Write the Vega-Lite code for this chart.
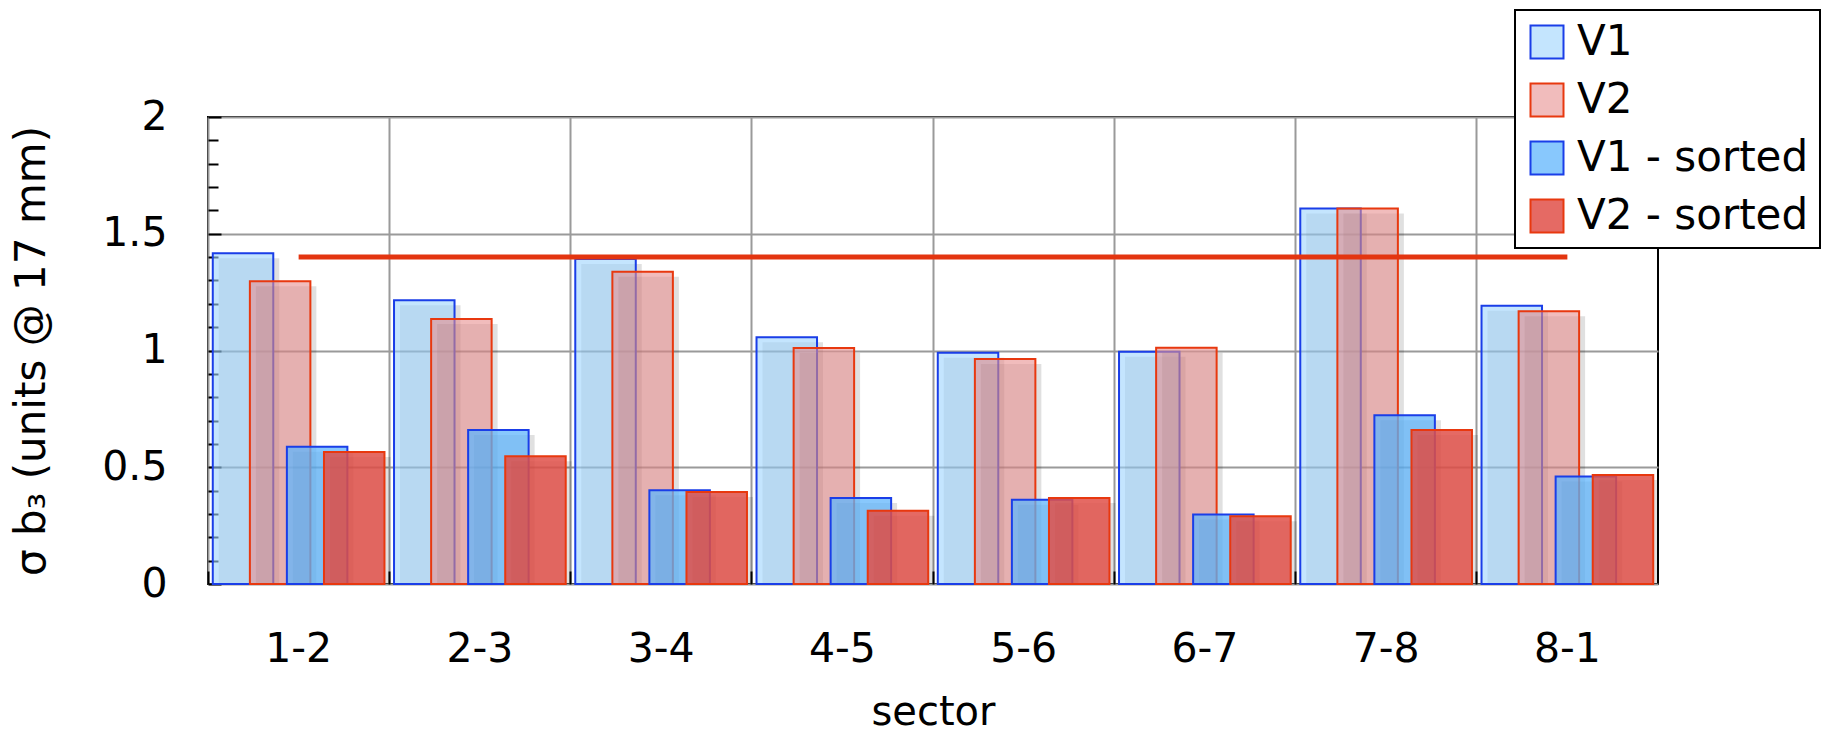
{
  "$schema": "https://vega.github.io/schema/vega-lite/v6.json",
  "autosize": "none",
  "width": 1450,
  "height": 467,
  "padding": {"left": 208, "top": 117, "right": 164, "bottom": 151},
  "background": "white",
  "config": {
    "view": {"stroke": "black", "strokeWidth": 2},
    "font": "DejaVu Sans"
  },
  "datasets": {
    "bars": [
      {"sector": "1-2", "series": "V1", "value": 1.416},
      {"sector": "1-2", "series": "V2", "value": 1.297},
      {"sector": "1-2", "series": "V1 - sorted", "value": 0.588},
      {"sector": "1-2", "series": "V2 - sorted", "value": 0.565},
      {"sector": "2-3", "series": "V1", "value": 1.215},
      {"sector": "2-3", "series": "V2", "value": 1.135},
      {"sector": "2-3", "series": "V1 - sorted", "value": 0.66},
      {"sector": "2-3", "series": "V2 - sorted", "value": 0.547},
      {"sector": "3-4", "series": "V1", "value": 1.392},
      {"sector": "3-4", "series": "V2", "value": 1.337},
      {"sector": "3-4", "series": "V1 - sorted", "value": 0.401},
      {"sector": "3-4", "series": "V2 - sorted", "value": 0.394},
      {"sector": "4-5", "series": "V1", "value": 1.057},
      {"sector": "4-5", "series": "V2", "value": 1.011},
      {"sector": "4-5", "series": "V1 - sorted", "value": 0.368},
      {"sector": "4-5", "series": "V2 - sorted", "value": 0.314},
      {"sector": "5-6", "series": "V1", "value": 0.99},
      {"sector": "5-6", "series": "V2", "value": 0.964},
      {"sector": "5-6", "series": "V1 - sorted", "value": 0.361},
      {"sector": "5-6", "series": "V2 - sorted", "value": 0.368},
      {"sector": "6-7", "series": "V1", "value": 0.995},
      {"sector": "6-7", "series": "V2", "value": 1.012},
      {"sector": "6-7", "series": "V1 - sorted", "value": 0.298},
      {"sector": "6-7", "series": "V2 - sorted", "value": 0.29},
      {"sector": "7-8", "series": "V1", "value": 1.608},
      {"sector": "7-8", "series": "V2", "value": 1.608},
      {"sector": "7-8", "series": "V1 - sorted", "value": 0.723},
      {"sector": "7-8", "series": "V2 - sorted", "value": 0.66},
      {"sector": "8-1", "series": "V1", "value": 1.192},
      {"sector": "8-1", "series": "V2", "value": 1.168},
      {"sector": "8-1", "series": "V1 - sorted", "value": 0.46},
      {"sector": "8-1", "series": "V2 - sorted", "value": 0.467}
    ],
    "thr": [
      {"sector": "1-2", "value": 1.4},
      {"sector": "2-3", "value": 1.4},
      {"sector": "3-4", "value": 1.4},
      {"sector": "4-5", "value": 1.4},
      {"sector": "5-6", "value": 1.4},
      {"sector": "6-7", "value": 1.4},
      {"sector": "7-8", "value": 1.4},
      {"sector": "8-1", "value": 1.4}
    ]
  },
  "encoding": {
    "x": {
      "field": "sector", "type": "nominal",
      "scale": {"type": "band", "domain": ["1-2","2-3","3-4","4-5","5-6","6-7","7-8","8-1"], "paddingInner": 0, "paddingOuter": 0},
      "axis": {
        "title": "sector", "bandPosition": 0, "labelOffset": 0, "labelAngle": 0,
        "grid": true, "gridColor": "#9a9a9a", "gridWidth": 2,
        "ticks": true, "tickSize": -13, "tickColor": "black", "tickWidth": 2,
        "domain": false,
        "labelFont": "DejaVu Sans", "labelFontSize": 41, "labelColor": "black", "labelPadding": 58,
        "titleFont": "DejaVu Sans", "titleFontSize": 40, "titleFontWeight": "normal", "titleColor": "black", "titlePadding": 23
      }
    },
    "y": {
      "field": "value", "type": "quantitative",
      "scale": {"domain": [0, 2], "nice": false, "zero": true},
      "axis": {
        "title": "σ b₃ (units @ 17 mm)",
        "values": [0,0.1,0.2,0.3,0.4,0.5,0.6,0.7,0.8,0.9,1,1.1,1.2,1.3,1.4,1.5,1.6,1.7,1.8,1.9,2],
        "format": "~g",
        "labelExpr": "datum.value % 0.5 === 0 ? datum.label : ''",
        "labelOverlap": false, "labelFlush": false, "labelBound": false,
        "grid": true, "gridColor": "#9a9a9a", "gridWidth": 2,
        "gridOpacity": {"condition": {"test": "datum.value % 0.5 === 0", "value": 1}, "value": 0},
        "tickSize": {"condition": {"test": "datum.value % 0.5 === 0", "value": -13}, "value": -10},
        "tickColor": "black", "tickWidth": 2,
        "domain": false,
        "labelFont": "DejaVu Sans", "labelFontSize": 41, "labelColor": "black", "labelPadding": 54,
        "titleFont": "DejaVu Sans", "titleFontSize": 42, "titleFontWeight": "normal", "titleColor": "black", "titlePadding": 48
      }
    }
  },
  "layer": [
    {
      "data": {"name": "bars"},
      "transform": [{"filter": "datum.series === 'V1'"}],
      "mark": {"type": "bar", "width": 60.5, "xOffset": -49.6, "yOffset": 5, "clip": true, "fill": "black", "fillOpacity": 0.12, "strokeWidth": 0},
      "encoding": {}
    },
    {
      "data": {"name": "bars"},
      "transform": [{"filter": "datum.series === 'V1'"}],
      "mark": {"type": "bar", "width": 60.5, "xOffset": -55.6, "fillOpacity": 0.6, "strokeWidth": 2},
      "encoding": {
        "fill": {"field": "series", "type": "nominal",
          "scale": {"domain": ["V1","V2","V1 - sorted","V2 - sorted"], "range": ["#9dd3fe","#e89090","#60b5fc","#e05049"]},
          "legend": {
            "orient": "none", "legendX": 1307, "legendY": -107,
            "title": null, "padding": 11, "strokeColor": "black", "fillColor": "white",
            "symbolType": "square", "symbolSize": 1089, "symbolStrokeWidth": 2,
            "labelFont": "DejaVu Sans", "labelFontSize": 42, "labelColor": "black", "labelOffset": 9,
            "rowPadding": 16, "labelLimit": 400,
            "encode": {
              "legend": {"update": {"strokeWidth": {"value": 2}}},
              "symbols": {"update": {"fillOpacity": {"signal": "datum.value === 'V1' || datum.value === 'V2' ? 0.6 : (datum.value === 'V1 - sorted' ? 0.75 : 0.85)"}}}
            }
          }
        },
        "stroke": {"field": "series", "type": "nominal",
          "scale": {"domain": ["V1","V2","V1 - sorted","V2 - sorted"], "range": ["#1a3ee8","#e8380f","#1a3ee8","#e8380f"]},
          "legend": {
            "orient": "none", "legendX": 1307, "legendY": -107,
            "title": null, "padding": 11, "strokeColor": "black", "fillColor": "white",
            "symbolType": "square", "symbolSize": 1089, "symbolStrokeWidth": 2,
            "labelFont": "DejaVu Sans", "labelFontSize": 42, "labelColor": "black", "labelOffset": 9,
            "rowPadding": 16, "labelLimit": 400,
            "encode": {
              "legend": {"update": {"strokeWidth": {"value": 2}}},
              "symbols": {"update": {"fillOpacity": {"signal": "datum.value === 'V1' || datum.value === 'V2' ? 0.6 : (datum.value === 'V1 - sorted' ? 0.75 : 0.85)"}}}
            }
          }
        }
      }
    },
    {
      "data": {"name": "bars"},
      "transform": [{"filter": "datum.series === 'V2'"}],
      "mark": {"type": "bar", "width": 60.5, "xOffset": -12.5, "yOffset": 5, "clip": true, "fill": "black", "fillOpacity": 0.12, "strokeWidth": 0},
      "encoding": {}
    },
    {
      "data": {"name": "bars"},
      "transform": [{"filter": "datum.series === 'V2'"}],
      "mark": {"type": "bar", "width": 60.5, "xOffset": -18.5, "fillOpacity": 0.6, "strokeWidth": 2},
      "encoding": {
        "fill": {"field": "series", "type": "nominal"},
        "stroke": {"field": "series", "type": "nominal"}
      }
    },
    {
      "data": {"name": "bars"},
      "transform": [{"filter": "datum.series === 'V1 - sorted'"}],
      "mark": {"type": "bar", "width": 60.5, "xOffset": 24.5, "yOffset": 5, "clip": true, "fill": "black", "fillOpacity": 0.12, "strokeWidth": 0},
      "encoding": {}
    },
    {
      "data": {"name": "bars"},
      "transform": [{"filter": "datum.series === 'V1 - sorted'"}],
      "mark": {"type": "bar", "width": 60.5, "xOffset": 18.5, "fillOpacity": 0.75, "strokeWidth": 2},
      "encoding": {
        "fill": {"field": "series", "type": "nominal"},
        "stroke": {"field": "series", "type": "nominal"}
      }
    },
    {
      "data": {"name": "bars"},
      "transform": [{"filter": "datum.series === 'V2 - sorted'"}],
      "mark": {"type": "bar", "width": 60.5, "xOffset": 61.6, "yOffset": 5, "clip": true, "fill": "black", "fillOpacity": 0.12, "strokeWidth": 0},
      "encoding": {}
    },
    {
      "data": {"name": "bars"},
      "transform": [{"filter": "datum.series === 'V2 - sorted'"}],
      "mark": {"type": "bar", "width": 60.5, "xOffset": 55.6, "fillOpacity": 0.85, "strokeWidth": 2},
      "encoding": {
        "fill": {"field": "series", "type": "nominal"},
        "stroke": {"field": "series", "type": "nominal"}
      }
    },
    {
      "data": {"name": "thr"},
      "mark": {"type": "line", "color": "#e33510", "strokeWidth": 5},
      "encoding": {}
    }
  ]
}
